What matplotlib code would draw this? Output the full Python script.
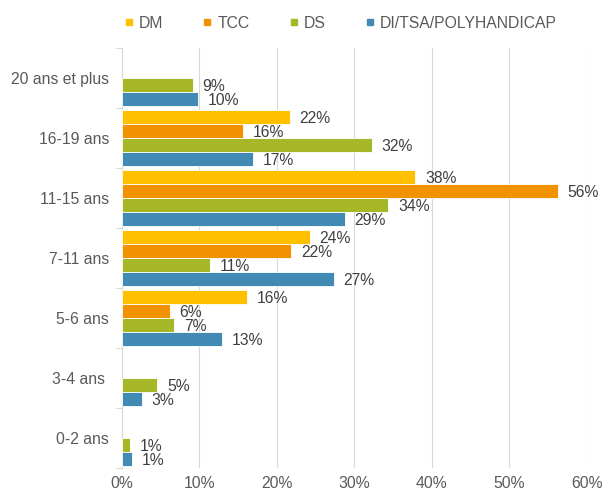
import numpy as np
import matplotlib
matplotlib.use("Agg")
import matplotlib.pyplot as plt
from matplotlib.lines import Line2D

plt.rcParams['font.family'] = ['Liberation Sans', 'DejaVu Sans']

categories = ["0-2 ans", "3-4 ans ", "5-6 ans", "7-11 ans", "11-15 ans", "16-19 ans", "20 ans et plus"]
series_names = ["DM", "TCC", "DS", "DI/TSA/POLYHANDICAP"]
dm = [np.nan, np.nan, 16.2, 24.3, 37.9, 21.7, np.nan]
tcc = [np.nan, np.nan, 6.2, 21.9, 56.3, 15.6, np.nan]
ds = [1.1, 4.6, 6.8, 11.4, 34.4, 32.3, 9.2]
di = [1.3, 2.6, 13.0, 27.4, 28.8, 17.0, 9.8]
xticks = [0, 10, 20, 30, 40, 50, 60]

colors = ["#FFC000", "#F39200", "#A6B828", "#418AB4"]
series = [dm, tcc, ds, di]

fig = plt.figure(figsize=(6.03, 4.93), dpi=100)
ax = fig.add_axes([0.2018, 0.0507, 0.771, 0.852])

h = 0.237
offsets = [1.5 * h, 0.5 * h, -0.5 * h, -1.5 * h]
y = np.arange(len(categories))
fs = 11.3
for vals, col, off in zip(series, colors, offsets):
    v = np.array(vals, dtype=float)
    mask = ~np.isnan(v)
    ax.barh(y[mask] + off, v[mask], height=h, color=col, edgecolor="white", linewidth=0.6, zorder=3)
    for yy, vv in zip(y[mask] + off, v[mask]):
        ax.annotate(f"{int(round(vv))}%", xy=(vv, yy), xytext=(7, -1), textcoords="offset points",
                    ha="left", va="center", fontsize=fs, color="#404040")

ax.set_xlim(0, 60)
ax.set_ylim(-0.5, len(categories) - 0.5)
ax.set_xticks(xticks)
ax.set_xticklabels([f"{t}%" for t in xticks])
ax.set_yticks(y)
ax.set_yticklabels(categories)
ax.set_yticks(np.arange(-0.5, len(categories)), minor=True)
ax.tick_params(axis="y", which="major", length=0, pad=9, labelsize=fs, labelcolor="#595959")
ax.tick_params(axis="y", which="minor", length=4, color="#D9D9D9", width=0.8)
ax.tick_params(axis="x", length=0, pad=6, labelsize=fs, labelcolor="#595959")
ax.grid(axis="x", color="#D9D9D9", linewidth=0.8, zorder=0)
ax.set_axisbelow(True)
for s in ["top", "right", "bottom"]:
    ax.spines[s].set_visible(False)
ax.spines["left"].set_color("#D9D9D9")
ax.spines["left"].set_linewidth(0.8)

handles = [Line2D([], [], marker="s", linestyle="none", markersize=5, markerfacecolor=c,
                  markeredgecolor=c) for c in colors]
fig.legend(handles, series_names, loc="center left", bbox_to_anchor=(0.206, 0.953), ncol=4,
           frameon=False, fontsize=fs, labelcolor="#595959", handlelength=0.6, handletextpad=0.35,
           columnspacing=2.5, borderpad=0, borderaxespad=0)

fig.savefig("out.png", dpi=100)
